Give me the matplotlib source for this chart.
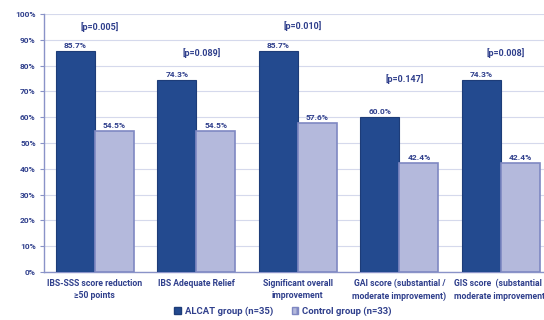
import numpy as np
import matplotlib
matplotlib.use("Agg")
import matplotlib.pyplot as plt
from matplotlib.patches import Patch

categories = ["IBS-SSS score reduction\n≥50 points", "IBS Adequate Relief",
              "Significant overall\nimprovement", "GAI score (substantial /\nmoderate improvement)",
              "GIS score  (substantial /\nmoderate improvement)"]
alcat = [85.7, 74.3, 85.7, 60.0, 74.3]
control = [54.5, 54.5, 57.6, 42.4, 42.4]
p_values = ["[p=0.005]", "[p=0.089]", "[p=0.010]", "[p=0.147]", "[p=0.008]"]
p_heights = [95, 85, 95.5, 75, 85]

txt = "#2f3f8c"
dark = "#234a8f"
dark_edge = "#1d3c78"
light = "#b4b9dc"
light_edge = "#7f88c2"

plt.rcParams['font.family'] = ['Roboto', 'DejaVu Sans']

fig = plt.figure(figsize=(5.44, 3.2), dpi=100)
ax = fig.add_axes([0.081, 0.15, 0.933, 0.806])

x = np.arange(len(categories))
w = 0.385
ax.bar(x - w / 2, alcat, w, color=dark, edgecolor=dark_edge, linewidth=0.8, zorder=3)
ax.bar(x + w / 2, control, w, color=light, edgecolor=light_edge, linewidth=1.2, zorder=3)

for i in x:
    ax.text(i - w / 2, alcat[i] + 0.8, f"{alcat[i]:.1f}%", ha="center", va="bottom",
            fontsize=6, color=txt, fontweight="bold")
    ax.text(i + w / 2, control[i] + 0.8, f"{control[i]:.1f}%", ha="center", va="bottom",
            fontsize=6, color=txt, fontweight="bold")
    ax.text(i + 0.05, p_heights[i], p_values[i], ha="center", va="center",
            fontsize=6.5, color=txt, fontweight="bold")

ax.set_xlim(-0.5, 4.5)
ax.set_ylim(0, 100)
ax.set_yticks(np.arange(0, 101, 10))
ax.set_yticklabels([f"{v}%" for v in range(0, 101, 10)], fontsize=6, color=txt, fontweight="bold")
ax.set_xticks(x)
ax.set_xticklabels(categories, fontsize=6.2, color=txt, fontweight="bold", linespacing=1.5)
ax.tick_params(axis="x", length=0, pad=5)
ax.tick_params(axis="y", length=3, color="#8a93c8", pad=3)
ax.grid(axis="y", color="#d5d9ec", linewidth=0.8, zorder=0)
for s in ["top", "right"]:
    ax.spines[s].set_visible(False)
ax.spines["left"].set_color("#8a93c8")
ax.spines["bottom"].set_color("#8a93c8")
ax.spines["left"].set_linewidth(1.0)
ax.spines["bottom"].set_linewidth(1.0)

handles = [Patch(facecolor=dark, edgecolor=dark_edge, label="ALCAT group (n=35)"),
           Patch(facecolor=light, edgecolor=light_edge, hatch="|||", label="Control group (n=33)")]
leg = fig.legend(handles=handles, loc="center", bbox_to_anchor=(0.52, 0.028), ncol=2, frameon=False,
                 fontsize=6.8, handlelength=0.7, handleheight=0.7, columnspacing=2.0, handletextpad=0.4)
for t in leg.get_texts():
    t.set_color(txt)
    t.set_fontweight("bold")

fig.savefig("out.png", dpi=100)
